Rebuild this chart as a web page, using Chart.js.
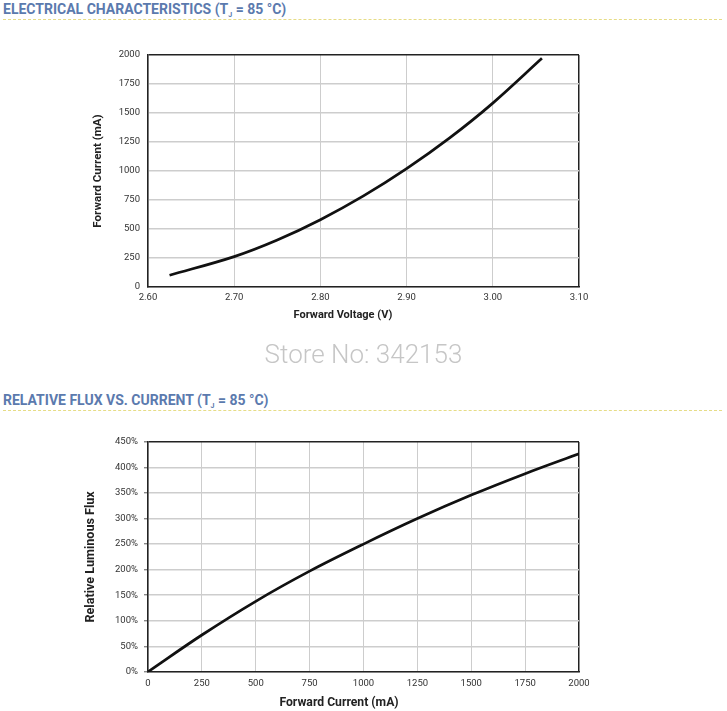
<!DOCTYPE html>
<html lang="en">
<head>
<meta charset="UTF-8">
<title>Electrical characteristics / Relative flux</title>
<script src="https://cdn.jsdelivr.net/npm/chart.js"></script>
<style>
    body { margin: 0; width: 727px; height: 711px; position: relative; overflow: hidden; background: #fff; font-family: Roboto, sans-serif; }
    .head { position: absolute; left: 3px; font-size: 14px; font-weight: 700; line-height: 18px; color: #5b7aae; white-space: nowrap; }
    .head sub { font-size: 7px; vertical-align: -3px; line-height: 0; }
    .dots { position: absolute; left: 3px; width: 719px; border-top: 1px dashed #e6dc86; }
    .store { position: absolute; left: 0; width: 727px; text-align: center; font-size: 26px; font-weight: 300; line-height: 32px; color: #c6c6c6; }
    .box { position: absolute; left: 0; width: 727px; }
</style>
</head>
<body>

<div class="head" style="top:0px">ELECTRICAL CHARACTERISTICS (T<sub>J</sub> = 85 °C)</div>
<div class="dots" style="top:19px"></div>

<div class="box" style="top:30px; height:310px"><canvas id="vfChart"></canvas></div>

<div class="store" style="top:338px">Store No: 342153</div>

<div class="head" style="top:391px">RELATIVE FLUX VS. CURRENT (T<sub>J</sub> = 85 °C)</div>
<div class="dots" style="top:410px"></div>

<div class="box" style="top:425px; height:286px"><canvas id="fluxChart"></canvas></div>

<script>
// Forward voltage vs forward current
var vfVoltage = [2.625, 2.70, 2.75, 2.80, 2.85, 2.90, 2.95, 3.00, 3.057];
var vfCurrent = [101, 262, 405, 580, 785, 1020, 1285, 1585, 1971];
var vfVoltTicks = [2.60, 2.70, 2.80, 2.90, 3.00, 3.10];
var vfCurrTicks = [0, 250, 500, 750, 1000, 1250, 1500, 1750, 2000];

// Relative luminous flux vs forward current
var fluxCurrent = [0, 250, 500, 750, 1000, 1250, 1500, 1750, 2000];
var fluxPercent = [0, 72, 138, 197, 250, 300, 346, 388, 427];
var fluxCurrTicks = [0, 250, 500, 750, 1000, 1250, 1500, 1750, 2000];
var fluxPctTicks = [0, 50, 100, 150, 200, 250, 300, 350, 400, 450];

var frameColor = '#222';
var gridColor = '#cdcdcd';
var tickFont = { family: 'Roboto', size: 9.5 };

function pairs(xs, ys) {
    return xs.map(function (x, i) { return { x: x, y: ys[i] }; });
}

// grid line at the far end of an axis doubles as the top/right frame
function edgeGrid(last, tickLen, lineW) {
    return {
        color: function (c) { return c.tick && c.tick.value === last ? frameColor : gridColor; },
        lineWidth: function (c) { return c.tick && c.tick.value === last ? 1.5 : lineW; },
        drawTicks: tickLen > 0,
        tickLength: tickLen,
        tickColor: '#888'
    };
}

function makeChart(id, cfg) {
    var xt = cfg.xTicks, yt = cfg.yTicks;
    return new Chart(document.getElementById(id), {
        type: 'line',
        data: {
            datasets: [{
                data: pairs(cfg.xs, cfg.ys),
                borderColor: '#111',
                borderWidth: 2.7,
                pointRadius: 0,
                fill: false,
                tension: 0.35
            }]
        },
        options: {
            responsive: true,
            maintainAspectRatio: false,
            animation: false,
            layout: { padding: cfg.pad },
            plugins: {
                legend: { display: false },
                tooltip: { enabled: false },
                title: {
                    display: true,
                    position: 'bottom',
                    text: cfg.xTitle,
                    color: frameColor,
                    font: { family: 'Roboto', size: cfg.xTitleSize, weight: 'bold' },
                    padding: { top: 4, bottom: 0 }
                }
            },
            scales: {
                x: {
                    type: 'linear',
                    min: xt[0], max: xt[xt.length - 1],
                    afterBuildTicks: function (s) { s.ticks = xt.map(function (v) { return { value: v }; }); },
                    afterFit: function (s) { s.height = cfg.xAxisH; },
                    grid: edgeGrid(xt[xt.length - 1], 0, 1),
                    border: { display: true, color: frameColor, width: 1.5 },
                    ticks: { font: tickFont, color: '#333', padding: cfg.xTickPad, maxRotation: 0, callback: cfg.xLabel }
                },
                y: {
                    min: yt[0], max: yt[yt.length - 1],
                    afterBuildTicks: function (s) { s.ticks = yt.map(function (v) { return { value: v }; }); },
                    afterFit: function (s) { s.width = cfg.yAxisW; },
                    grid: edgeGrid(yt[yt.length - 1], cfg.yTickLen, 1.4),
                    border: { display: true, color: frameColor, width: 1.5 },
                    ticks: { font: tickFont, color: '#333', padding: cfg.yTickPad, callback: cfg.yLabel },
                    title: {
                        display: true, text: cfg.yTitle, color: frameColor,
                        font: { family: 'Roboto', size: cfg.yTitleSize, weight: 'bold' },
                        padding: { top: cfg.yTitlePad }
                    }
                },
                // empty right-hand strip so the bottom title sits where the original has it
                y2: {
                    position: 'right',
                    grid: { display: false },
                    border: { display: false },
                    ticks: { display: false },
                    afterFit: function (s) { s.width = cfg.rightGap; }
                }
            }
        }
    });
}

makeChart('vfChart', {
    xs: vfVoltage, ys: vfCurrent,
    xTicks: vfVoltTicks, yTicks: vfCurrTicks,
    xTitle: 'Forward Voltage (V)', yTitle: 'Forward Current (mA)',
    xTitleSize: 11, yTitleSize: 11.6, yTitlePad: 3,
    xLabel: function (v) { return v.toFixed(2); },
    yLabel: function (v) { return v; },
    pad: { left: 88.4, right: 129.4, top: 25, bottom: 18.4 },
    xAxisH: 17.4, yAxisW: 59.6, rightGap: 18.6,
    xTickPad: 5.3, yTickPad: 8, yTickLen: 0
});

makeChart('fluxChart', {
    xs: fluxCurrent, ys: fluxPercent,
    xTicks: fluxCurrTicks, yTicks: fluxPctTicks,
    xTitle: 'Forward Current (mA)', yTitle: 'Relative Luminous Flux',
    xTitleSize: 12.2, yTitleSize: 12.6, yTitlePad: 2,
    xLabel: function (v) { return v; },
    yLabel: function (v) { return v + '%'; },
    pad: { left: 81.4, right: 130.4, top: 17, bottom: 1.2 },
    xAxisH: 19.4, yAxisW: 66.6, rightGap: 17.6,
    xTickPad: 6.3, yTickPad: 6, yTickLen: 4
});
</script>
</body>
</html>
